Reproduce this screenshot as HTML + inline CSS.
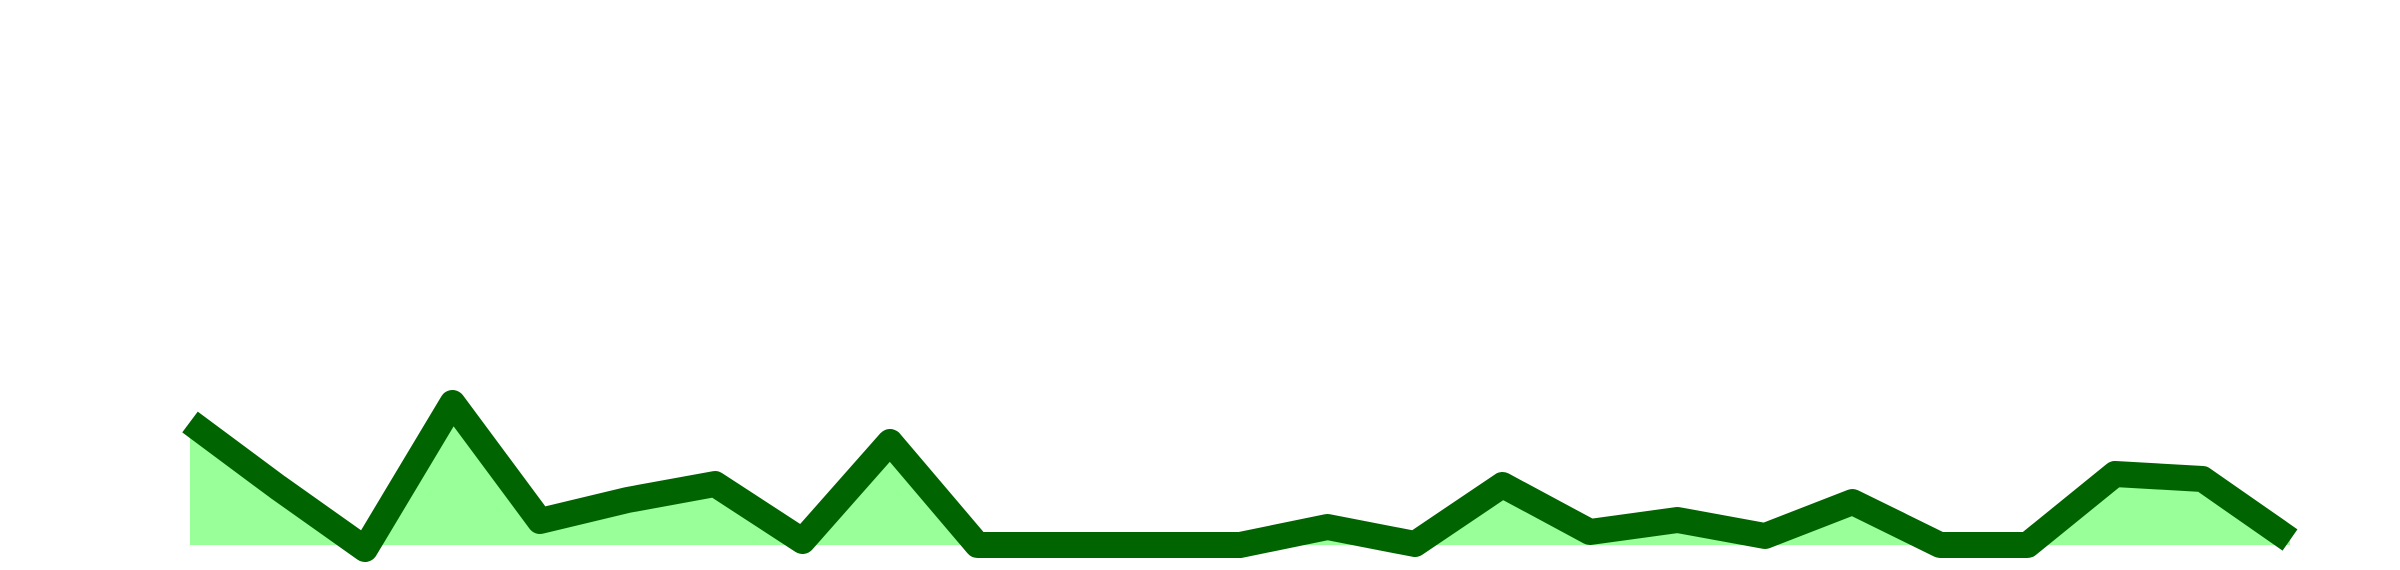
<!DOCTYPE html>
<html><head><meta charset="utf-8"><style>
html,body{margin:0;padding:0;background:#fff;width:2400px;height:570px;overflow:hidden}
svg{display:block}
</style></head><body>
<svg id="chart" width="2400" height="570" viewBox="0 0 2400 570">
<g id="plot"></g>
</svg>
<script>
const categories = [1,2,3,4,5,6,7,8,9,10,11,12,13,14,15,16,17,18,19,20,21,22,23,24,25];
const seriesValues = [12.3,5.8,-0.4,14.2,2.4,4.5,6.1,0.4,10.3,0,0,0,0,1.8,0.1,6.0,1.3,2.5,0.9,4.3,0,0,7.1,6.6,0.5];

const X0 = 190, X1 = 2290, BASE = 545, UNIT = 10;
function xScale(i){ return X0 + (X1 - X0) * i / (categories.length - 1); }
function yScale(v){ return BASE - v * UNIT; }

const NS = 'http://www.w3.org/2000/svg';
const g = document.getElementById('plot');
const pts = seriesValues.map((v,i)=>[xScale(i), yScale(v)]);

const area = document.createElementNS(NS,'polygon');
const poly = pts.map(p=>p.join(',')).join(' ') + ' ' + xScale(categories.length-1) + ',' + BASE + ' ' + xScale(0) + ',' + BASE;
area.setAttribute('points', poly);
area.setAttribute('fill', '#99ff99');


g.appendChild(area);

const line = document.createElementNS(NS,'polyline');
line.setAttribute('points', pts.map(p=>p.join(',')).join(' '));
line.setAttribute('fill', 'none');
line.setAttribute('stroke', '#006400');
line.setAttribute('stroke-width', '26');
line.setAttribute('stroke-linejoin', 'round');
line.setAttribute('stroke-linecap', 'butt');


g.appendChild(line);
</script>
</body></html>
